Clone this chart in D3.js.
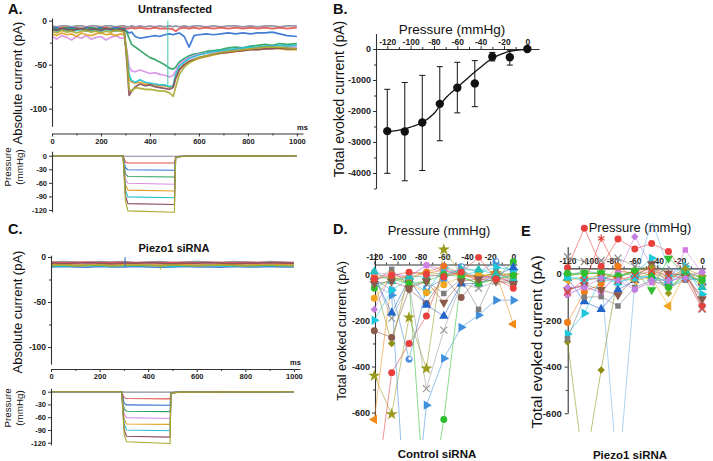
<!DOCTYPE html>
<html>
<head>
<meta charset="utf-8">
<script src="https://cdn.jsdelivr.net/npm/d3@7/dist/d3.min.js"></script>
<style>
html,body{margin:0;padding:0;background:#fff;}
svg{display:block;}
</style>
</head>
<body>
<svg id="fig" width="713" height="461"></svg>
<script>
// ================= DATA =================
// Panel A: untransfected current traces (pA) sampled at these times (ms)
const timeMs = [0,20,40,60,80,100,120,140,160,180,200,220,240,260,280,295,305,315,325,340,360,380,400,420,440,460,480,495,505,520,540,560,580,600,630,660,690,720,750,780,810,840,870,900,930,960,1000];
const untr0   = [-6,-7,-6,-6,-7,-6,-6,-7,-6,-6,-7,-6,-6,-7,-6, -6,-7,-7,-6,-7,-6,-7,-6,-7,-6,-7,-6,-7,-6,-7,-6,-7,-6,-6,-7,-6,-7,-6,-6,-7,-6,-7,-6,-6,-7,-6,-6];
const untr15  = [-8,-9,-8,-8,-9,-8,-9,-8,-8,-9,-8,-8,-9,-8,-8, -8,-9,-9,-8,-9,-8,-9,-9,-8,-9,-9,-9,-10,-12,-9,-8,-9,-8,-9,-8,-9,-8,-9,-8,-9,-8,-9,-8,-9,-8,-9,-8];
const untr30  = [-9,-8,-10,-9,-8,-9,-10,-8,-9,-9,-8,-10,-9,-8,-9, -9,-12,-14,-13,-18,-20,-19,-18,-17,-18,-16,-15,-16,-15,-14,-18,-30,-17,-16,-15,-16,-15,-14,-15,-14,-15,-14,-14,-13,-15,-17,-18];
const untr45  = [-9,-10,-9,-8,-10,-9,-9,-10,-8,-9,-10,-9,-9,-10,-9, -10,-13,-20,-27,-30,-34,-38,-42,-44,-47,-50,-54,-55,-53,-47,-43,-40,-38,-37,-35,-34,-33,-31,-30,-31,-29,-28,-27,-28,-26,-27,-26];
const untr60  = [-18,-21,-17,-19,-22,-18,-20,-17,-21,-19,-18,-22,-19,-17,-20, -20,-32,-52,-57,-58,-56,-58,-60,-59,-61,-62,-64,-62,-57,-50,-45,-42,-40,-38,-37,-36,-35,-34,-33,-33,-32,-31,-31,-30,-31,-30,-30];
const untr75  = [-15,-17,-14,-16,-15,-18,-14,-16,-17,-15,-14,-16,-15,-17,-15, -16,-35,-66,-70,-71,-70,-72,-72,-73,-74,-74,-76,-74,-63,-55,-50,-47,-45,-43,-41,-39,-37,-36,-35,-34,-33,-33,-32,-31,-32,-33,-33];
const untr90  = [-11,-12,-10,-11,-12,-11,-10,-12,-11,-11,-12,-10,-11,-12,-11, -12,-38,-62,-68,-70,-67,-70,-71,-72,-73,-73,-75,-74,-61,-52,-47,-43,-41,-39,-37,-35,-34,-33,-32,-31,-30,-30,-29,-29,-28,-29,-28];
const untr105 = [-10,-11,-9,-10,-11,-10,-9,-11,-10,-10,-11,-9,-10,-11,-10, -11,-45,-85,-80,-75,-72,-74,-73,-75,-76,-77,-78,-76,-66,-56,-50,-46,-44,-42,-40,-38,-37,-36,-35,-34,-33,-33,-32,-32,-31,-32,-32];
const untr120 = [-12,-14,-11,-13,-12,-14,-12,-11,-13,-12,-14,-12,-13,-11,-12, -13,-38,-78,-80,-76,-77,-78,-78,-79,-80,-80,-82,-86,-76,-61,-53,-48,-45,-42,-40,-38,-36,-35,-34,-33,-32,-31,-30,-30,-30,-31,-32];
const untransfected = [untr0, untr15, untr30, untr45, untr60, untr75, untr90, untr105, untr120];
const untrArtifactT = [473], untrArtifactFrom = [-73], untrArtifactTo = [0];

// Panel C: Piezo1 siRNA current traces (pA)
const piezoTimeMs = [0,50,100,150,200,250,300,350,400,450,500,550,600,650,700,750,800,850,900,950,1000];
const pz0   = [-5.5,-5,-5.5,-6,-5,-5.5,-5,-6,-5.5,-5,-6,-5.5,-5,-5.5,-6,-5,-5.5,-6,-5,-5.5,-6];
const pz15  = [-6,-6.5,-6,-5.5,-6.5,-6,-6,-6.5,-6,-6.5,-6,-6,-6.5,-6,-6,-6.5,-6,-6,-6.5,-6,-6.5];
const pz30  = [-11,-10.5,-11,-11.5,-10.5,-11,-11,-10.5,-11,-11.5,-11,-10.5,-11,-11,-11.5,-10.5,-11,-11,-10.5,-11,-11];
const pz45  = [-9,-9.5,-9,-8.5,-9,-9.5,-9,-9,-8.5,-9,-9.5,-9,-9,-8.5,-9,-9.5,-9,-9,-9.5,-9,-9];
const pz60  = [-8,-8.5,-8,-7.5,-8,-8.5,-8,-8,-8.5,-8,-7.5,-8,-8.5,-8,-8,-8.5,-8,-7.5,-8,-8.5,-8];
const pz75  = [-8.5,-8,-9,-8.5,-8,-9,-8.5,-8,-8.5,-9,-8,-8.5,-9,-8.5,-8,-8.5,-9,-8.5,-8,-8.5,-9];
const pz90  = [-10,-10.5,-10,-9.5,-10,-10.5,-10,-10,-9.5,-10,-10.5,-10,-10,-9.5,-10,-10.5,-10,-10,-9.5,-10,-10];
const pz105 = [-7,-7.5,-7,-6.5,-7,-7.5,-7,-7,-6.5,-7,-7.5,-7,-7,-6.5,-7,-7.5,-7,-7,-6.5,-7,-7];
const pz120 = [-9.5,-9,-10,-9.5,-9,-10,-9.5,-9,-9.5,-10,-9,-9.5,-10,-9.5,-9,-9.5,-10,-9.5,-9,-9.5,-10];
const piezoTraces = [pz0, pz15, pz30, pz45, pz60, pz75, pz90, pz105, pz120];
const pzArtifactT = [305, 450, 930], pzArtifactFrom = [-11, -9, -9], pzArtifactTo = [0, -14, -12], pzArtifactTrace = [2, 8, 8];

// Pressure steps (mmHg)
const pressureLevels = [0,-15,-30,-45,-60,-75,-90,-105,-120];
const stimTimeA = [0,290,300,310,500,505,512,540,1000];
const stimA = [
  [0,0,-1,-1,-1,-1,-1,0,0],
  [0,0,-14,-16,-16,-2,-2,-1,0],
  [0,0,-27,-31,-32,-3,-2,-1,0],
  [0,0,-40,-46,-47,-3,-2,-1,0],
  [0,0,-52,-61,-63,-4,-3,-1,0],
  [0,0,-64,-76,-78,-4,-3,-1,0],
  [0,0,-76,-91,-93,-5,-3,-1,0],
  [0,0,-88,-106,-108,-5,-3,-1,0],
  [0,0,-100,-122,-125,-6,-3,-1,0]
];
const stimTimeC = [0,291,301,311,490,494,500,530,1000];
const stimC = [
  [0,0,-1,-1,-1,-1,-1,0,0],
  [0,0,-14,-16,-17,-2,-2,-1,0],
  [0,0,-27,-31,-32,-3,-2,-1,0],
  [0,0,-40,-46,-47,-3,-2,-1,0],
  [0,0,-52,-61,-63,-4,-3,-1,0],
  [0,0,-64,-76,-77,-4,-3,-1,0],
  [0,0,-76,-90,-92,-5,-3,-1,0],
  [0,0,-88,-105,-107,-5,-3,-1,0],
  [0,0,-100,-118,-122,-6,-3,-1,0]
];

// Panel B: mean total evoked current vs pressure
const bPressure = [-120,-105,-90,-75,-60,-45,-30,-15,0];
const bMean  = [-2650,-2660,-2370,-1770,-1250,-1110,-250,-265,0];
const bUpper = [-1300,-1080,-850,-570,-430,-376,-110,-40,0];
const bLower = [-4010,-4250,-3920,-2960,-2060,-1860,-385,-520,0];
const bFitP = [-120,-110,-100,-90,-80,-75,-70,-60,-50,-45,-40,-30,-20,-10,0];
const bFitI = [-2670,-2620,-2520,-2370,-2080,-1830,-1580,-1240,-900,-740,-590,-300,-130,-45,-10];

// Panels D / E: individual cells (pA) at bPressure
const controlSiRNA = [
  [-1000,-427,-300,-181,20,-10,-5,-20,-30],
  [-440,-607,-187,-409,108,0,-10,5,-5],
  [-40,-90,-1300,-568,-365,-230,-177,-112,-112],
  [-20,-10,-30,-1100,-630,-10,-40,-17,55],
  [-630,-20,-10,5,20,0,-15,10,-216],
  [-10,-191,-40,-496,-242,-40,-60,-30,-30],
  [-20,-68,-369,-60,-20,33,10,55,10],
  [-245,-274,-65,-126,-10,-100,-15,-5,-40],
  [-25,-300,5,10,0,5,-10,5,0],
  [-152,5,-10,40,20,0,-20,0,-10],
  [-199,-68,-20,-78,30,0,10,30,20],
  [-10,-167,-20,-133,-181,-40,-40,-5,30],
  [-30,22,-50,-30,-83,-20,-152,10,-30],
  [-104,-10,-40,-80,-45,-10,0,-10,-20],
  [-10,0,-20,10,36,5,-30,0,-10],
  [10,-5,-10,40,0,20,-20,-10,-30],
  [12,-30,-10,-10,0,20,20,0,-20],
  [-60,-20,-40,-30,0,-10,-40,-20,-5],
  [-40,-30,-60,-30,-122,-30,-20,-30,-40],
  [-20,-5,10,0,-10,10,74,-20,-60]
];
const piezoSiRNA = [
  [24,193,30,147,104,128,93,0,-140],
  [-70,-50,150,10,0,20,0,-10,-100],
  [-90,-60,-80,0,157,30,-40,-10,5],
  [-10,10,0,-900,-40,230,20,10,-60],
  [-293,-850,-414,-10,10,25,-20,10,-20],
  [-211,-80,-45,30,-20,0,-20,20,-50],
  [-260,-171,-20,-10,0,64,-10,30,-90],
  [-20,-121,-154,-71,-30,-10,-40,0,-40],
  [-280,-103,-100,-140,-60,-30,-60,-30,-20],
  [71,50,55,65,30,20,-40,30,-154],
  [-10,0,0,-20,10,-71,64,0,-20],
  [-30,-20,-10,-20,-30,-20,-140,0,-40],
  [-90,-60,-80,0,-69,-40,-40,100,0],
  [-71,-50,-70,-93,-20,40,0,-10,-110],
  [-20,-20,-25,-40,-10,-20,-30,10,-60],
  [-10,0,0,-20,10,25,-86,20,-10],
  [-15,-30,-10,-40,-20,-10,-60,-20,-30],
  [0,0,0,-10,10,-10,-60,-10,-30],
  [-80,-30,-20,-30,-10,10,-10,-20,-150],
  [-60,-60,-20,-30,-70,-30,-30,-20,5]
];

// ================= STYLES =================
const FONT = '"Liberation Sans", Arial, Helvetica, sans-serif';
const traceColors = ['#8c8c9c','#e0504a','#2f6fd0','#2aa060','#d890e8','#e0a020','#20c0d0','#8b4a55','#a8a830'];
const dStyle = [
  ['#e8403c','circle'],['#9b9b1e','star'],['#3f8fdc','triR'],['#2ebd2e','circle'],['#f08a1a','triL'],
  ['#9a9a9a','x'],['#4a8fd8','half'],['#8c5a4c','circle'],['#8f8f14','diamond'],['#c27fe0','diamond'],
  ['#1ec8dc','triR'],['#2266cc','triU'],['#7d7d7d','square'],['#f2a51e','circle'],['#f07020','circle'],
  ['#d27de0','square'],['#22c0b8','triU'],['#2ebd2e','circle'],['#8c5a4c','triD'],['#e8403c','circle']
];
const eStyle = [
  ['#e8403c','circle'],['#e8403c','asterisk'],['#c27fe0','diamond'],['#6ab0e8','none'],['#8f8f14','diamond'],
  ['#f07d1a','circle'],['#1ec8dc','triR'],['#2266cc','triU'],['#7d7d7d','square'],['#8a8a8a','x'],
  ['#2ebd2e','triD'],['#f2a51e','triL'],['#d27de0','square'],['#8c5a4c','triD'],['#22c0b8','triU'],
  ['#9b9b1e','diamond'],['#1ec8dc','circle'],['#2ebd2e','circle'],['#e8403c','x'],['#c27fe0','diamond']
];

// ================= DRAW =================
const svg = d3.select('#fig');
svg.append('rect').attr('width',713).attr('height',461).attr('fill','#fff');
const defs = svg.append('defs');
function clip(id, x, y, w, h){
  defs.append('clipPath').attr('id', id).append('rect').attr('x',x).attr('y',y).attr('width',w).attr('height',h);
  return `url(#${id})`;
}
function txt(x, y, s, size, opt = {}) {
  const t = svg.append('text').attr('x', x).attr('y', y).text(s)
    .attr('font-family', FONT).attr('font-size', size)
    .attr('font-weight', opt.bold ? 'bold' : 'normal')
    .attr('text-anchor', opt.anchor || 'start').attr('fill', opt.fill || '#111');
  if (opt.rot) t.attr('transform', `rotate(${opt.rot},${x},${y})`);
  return t;
}
function styleAxis(g, fs, bold = true) {
  g.select('.domain').attr('stroke', '#333').attr('stroke-width', 1.1);
  g.selectAll('.tick line').attr('stroke', '#333').attr('stroke-width', 1);
  g.selectAll('.tick text').attr('font-family', FONT).attr('font-size', fs)
    .attr('font-weight', bold ? 'bold' : 'normal').attr('fill', '#222');
}
const fmt = d => String(d);
function leftAxis(scale, x, major, minor, fs, pad = 2) {
  const g = svg.append('g').attr('transform', `translate(${x},0)`)
    .call(d3.axisLeft(scale).tickValues(major).tickSize(3).tickSizeOuter(0).tickPadding(pad).tickFormat(fmt));
  styleAxis(g, fs);
  if (minor) {
    const m = svg.append('g').attr('transform', `translate(${x},0)`)
      .call(d3.axisLeft(scale).tickValues(minor).tickSize(2).tickSizeOuter(0).tickFormat(''));
    m.select('.domain').remove();
    m.selectAll('.tick line').attr('stroke', '#333');
  }
}
function bottomAxis(scale, y, major, minor, fs) {
  const g = svg.append('g').attr('transform', `translate(0,${y})`)
    .call(d3.axisBottom(scale).tickValues(major).tickSize(3).tickSizeOuter(0).tickPadding(2).tickFormat(fmt));
  styleAxis(g, fs);
  if (minor) {
    const m = svg.append('g').attr('transform', `translate(0,${y})`)
      .call(d3.axisBottom(scale).tickValues(minor).tickSize(2).tickSizeOuter(0).tickFormat(''));
    m.select('.domain').remove();
    m.selectAll('.tick line').attr('stroke', '#333');
  }
}
function topAxis(scale, y, major, minor, fs) {
  const g = svg.append('g').attr('transform', `translate(0,${y})`)
    .call(d3.axisTop(scale).tickValues(major).tickSize(3).tickSizeOuter(0).tickPadding(1.5).tickFormat(fmt));
  styleAxis(g, fs);
  if (minor) {
    const m = svg.append('g').attr('transform', `translate(0,${y})`)
      .call(d3.axisTop(scale).tickValues(minor).tickSize(2).tickSizeOuter(0).tickFormat(''));
    m.select('.domain').remove();
    m.selectAll('.tick line').attr('stroke', '#333');
  }
}

// ---------- Panel A ----------
const xA = d3.scaleLinear().domain([0, 1025]).range([52, 303]);
const yA = d3.scaleLinear().domain([3, -120]).range([18, 126.3]);
const cpA = clip('cpA', 52, 5, 250, 124);
const gA = svg.append('g').attr('clip-path', cpA);
const lineA = d3.line().x((d, i) => xA(timeMs[i])).y(d => yA(d));
untransfected.forEach((tr, k) => {
  gA.append('path').attr('d', lineA(tr)).attr('fill', 'none')
    .attr('stroke', traceColors[k]).attr('stroke-width', 1.7).attr('stroke-opacity', 0.9).attr('stroke-linejoin', 'round');
});
untrArtifactT.forEach((t, i) => {
  gA.append('line').attr('x1', xA(t)).attr('x2', xA(t)).attr('y1', yA(untrArtifactFrom[i])).attr('y2', yA(untrArtifactTo[i]))
    .attr('stroke', '#30c0a8').attr('stroke-width', 0.9);
});
leftAxis(yA, 52, [0, -50, -100], [-25, -75], 8.5);
bottomAxis(xA, 133.5, [0, 200, 400, 600, 800, 1000], [100, 300, 500, 700, 900], 7.5);
txt(297, 130, 'ms', 7.5, {bold: true});
txt(8, 14, 'A.', 14.5, {bold: true});
txt(175, 13, 'Untransfected', 11, {bold: true, anchor: 'middle'});
txt(21.5, 83, 'Absolute current (pA)', 13, {anchor: 'middle', rot: -90});

// Pressure A
const yPA = d3.scaleLinear().domain([10, -124]).range([151.2, 211.8]);
const linePA = d3.line().x((d, i) => xA(stimTimeA[i])).y(d => yPA(d));
stimA.forEach((s, k) => {
  svg.append('path').attr('d', linePA(s)).attr('fill', 'none').attr('stroke', traceColors[k]).attr('stroke-width', 1.1);
});
leftAxis(yPA, 52, [0, -30, -60, -90, -120], null, 7.5);
txt(10.5, 167, 'Pressure', 9.8, {anchor: 'middle', rot: -90});
txt(23, 167, '(mmHg)', 9.8, {anchor: 'middle', rot: -90});

// ---------- Panel C ----------
const xC = d3.scaleLinear().domain([0, 1025]).range([51, 300]);
const yC = d3.scaleLinear().domain([2, -119]).range([255.2, 364.1]);
const gC = svg.append('g');
const lineC = d3.line().x((d, i) => xC(piezoTimeMs[i])).y(d => yC(d));
piezoTraces.forEach((tr, k) => {
  gC.append('path').attr('d', lineC(tr)).attr('fill', 'none')
    .attr('stroke', traceColors[k]).attr('stroke-width', 1.5).attr('stroke-opacity', 0.9);
});
pzArtifactT.forEach((t, i) => {
  gC.append('line').attr('x1', xC(t)).attr('x2', xC(t)).attr('y1', yC(pzArtifactFrom[i])).attr('y2', yC(pzArtifactTo[i]))
    .attr('stroke', traceColors[pzArtifactTrace[i]]).attr('stroke-width', 1);
});
leftAxis(yC, 51, [0, -50, -100], [-25, -75], 8.5);
bottomAxis(xC, 369, [0, 200, 400, 600, 800, 1000], [100, 300, 500, 700, 900], 7.5);
txt(290, 365, 'ms', 7.5, {bold: true});
txt(8, 234, 'C.', 14.5, {bold: true});
txt(174, 252, 'Piezo1 siRNA', 11, {bold: true, anchor: 'middle'});
txt(21.5, 312, 'Absolute current (pA)', 13, {anchor: 'middle', rot: -90});

const yPC = d3.scaleLinear().domain([8, -125]).range([388.3, 444.8]);
const linePC = d3.line().x((d, i) => xC(stimTimeC[i])).y(d => yPC(d));
stimC.forEach((s, k) => {
  svg.append('path').attr('d', linePC(s)).attr('fill', 'none').attr('stroke', traceColors[k]).attr('stroke-width', 1.1);
});
leftAxis(yPC, 51, [0, -30, -60, -90, -120], null, 7.5);
txt(10.5, 408, 'Pressure', 9.8, {anchor: 'middle', rot: -90});
txt(23, 408, '(mmHg)', 9.8, {anchor: 'middle', rot: -90});

// ---------- Panel B ----------
const xB = d3.scaleLinear().domain([-130, 10]).range([375.6, 539]);
const yB = d3.scaleLinear().domain([500, -4500]).range([33.5, 188.5]);
leftAxis(yB, 376, [0, -1000, -2000, -3000, -4000], [-500, -1500, -2500, -3500, -4500], 9);
topAxis(xB, yB(0), [-120, -100, -80, -60, -40, -20, 0], [-110, -90, -70, -50, -30, -10], 8.5);
const gB = svg.append('g');
bPressure.forEach((p, i) => {
  if (bUpper[i] === bLower[i]) return;
  const x = xB(p);
  gB.append('line').attr('x1', x).attr('x2', x).attr('y1', yB(bUpper[i])).attr('y2', yB(bLower[i])).attr('stroke', '#111').attr('stroke-width', 1);
  [bUpper[i], bLower[i]].forEach(v => {
    gB.append('line').attr('x1', x - 3).attr('x2', x + 3).attr('y1', yB(v)).attr('y2', yB(v)).attr('stroke', '#111').attr('stroke-width', 1);
  });
});
const fitLine = d3.line().x((d, i) => xB(bFitP[i])).y(d => yB(d)).curve(d3.curveCatmullRom.alpha(0.5));
gB.append('path').attr('d', fitLine(bFitI)).attr('fill', 'none').attr('stroke', '#111').attr('stroke-width', 1.3);
bPressure.forEach((p, i) => {
  gB.append('circle').attr('cx', xB(p)).attr('cy', yB(bMean[i])).attr('r', 4.2).attr('fill', '#111');
});
txt(333, 14, 'B.', 14.5, {bold: true});
txt(452, 34, 'Pressure (mmHg)', 13.5, {anchor: 'middle'});
txt(343.5, 99, 'Total evoked current (pA)', 14, {anchor: 'middle', rot: -90});

// ---------- markers ----------
const symType = {circle: d3.symbolCircle, square: d3.symbolSquare, triU: d3.symbolTriangle, triD: d3.symbolTriangle,
  triL: d3.symbolTriangle, triR: d3.symbolTriangle, diamond: d3.symbolSquare, star: d3.symbolStar,
  x: d3.symbolTimes, asterisk: d3.symbolAsterisk, half: d3.symbolCircle};
const symRot = {triD: 180, triL: -90, triR: 90, diamond: 45};
const symSize = {circle: 38, square: 30, triU: 38, triD: 38, triL: 38, triR: 38, diamond: 28, star: 46, x: 34, asterisk: 38, half: 38};
function marker(g, kind, color, cx, cy) {
  if (kind === 'none') return;
  const p = g.append('path').attr('d', d3.symbol(symType[kind], symSize[kind])())
    .attr('transform', `translate(${cx},${cy}) rotate(${symRot[kind] || 0})`);
  if (kind === 'x' || kind === 'asterisk') p.attr('fill', 'none').attr('stroke', color).attr('stroke-width', 1.2);
  else p.attr('fill', color);
  if (kind === 'half') {
    g.append('circle').attr('cx', cx + 0.9).attr('cy', cy - 0.9).attr('r', 1.6).attr('fill', '#fff');
  }
}
function scatterPanel(series, styles, xS, yS, cp) {
  const g = svg.append('g').attr('clip-path', cp);
  const ln = d3.line().x((d, i) => xS(bPressure[i])).y(d => yS(d));
  series.forEach((s, k) => {
    g.append('path').attr('d', ln(s)).attr('fill', 'none').attr('stroke', styles[k][0])
      .attr('stroke-width', 0.8).attr('stroke-opacity', 0.7);
  });
  series.forEach((s, k) => {
    s.forEach((v, i) => marker(g, styles[k][1], styles[k][0], xS(bPressure[i]), yS(v)));
  });
}

// ---------- Panel D ----------
const xD = d3.scaleLinear().domain([-120, 3]).range([374.3, 516.8]);
const yD = d3.scaleLinear().domain([93, -612]).range([253, 415.3]);
leftAxis(yD, 375, [0, -200, -400, -600], [-100, -300, -500], 9);
topAxis(xD, yD(43), [-120, -100, -80, -60, -40, -20, 0], [-110, -90, -70, -50, -30, -10], 8.5);
scatterPanel(controlSiRNA, dStyle, xD, yD, clip('cpD', 362, 243, 168, 197));
txt(333, 234, 'D.', 14.5, {bold: true});
txt(439, 235, 'Pressure (mmHg)', 13, {anchor: 'middle'});
txt(346, 331, 'Total evoked current (pA)', 12.5, {anchor: 'middle', rot: -90});
txt(437, 458, 'Control siRNA', 11.5, {bold: true, anchor: 'middle'});

// ---------- Panel E ----------
const xE = d3.scaleLinear().domain([-120, 3]).range([567.5, 705.5]);
const yE = d3.scaleLinear().domain([114, -600]).range([246.7, 413.3]);
leftAxis(yE, 567.7, [0, -200, -400, -600], [-100, -300, -500], 9.5, 3);
topAxis(xE, yE(21), [-120, -100, -80, -60, -40, -20, 0], [-110, -90, -70, -50, -30, -10], 8.5);
txt(640, 232, 'Pressure (mmHg)', 13, {anchor: 'middle'});
scatterPanel(piezoSiRNA, eStyle, xE, yE, clip('cpE', 555, 223, 158, 209));
txt(521, 236, 'E', 14.5, {bold: true});
txt(542, 342, 'Total evoked current (pA)', 15.5, {anchor: 'middle', rot: -90});
txt(630, 459, 'Piezo1 siRNA', 11.5, {bold: true, anchor: 'middle'});
</script>
</body>
</html>
